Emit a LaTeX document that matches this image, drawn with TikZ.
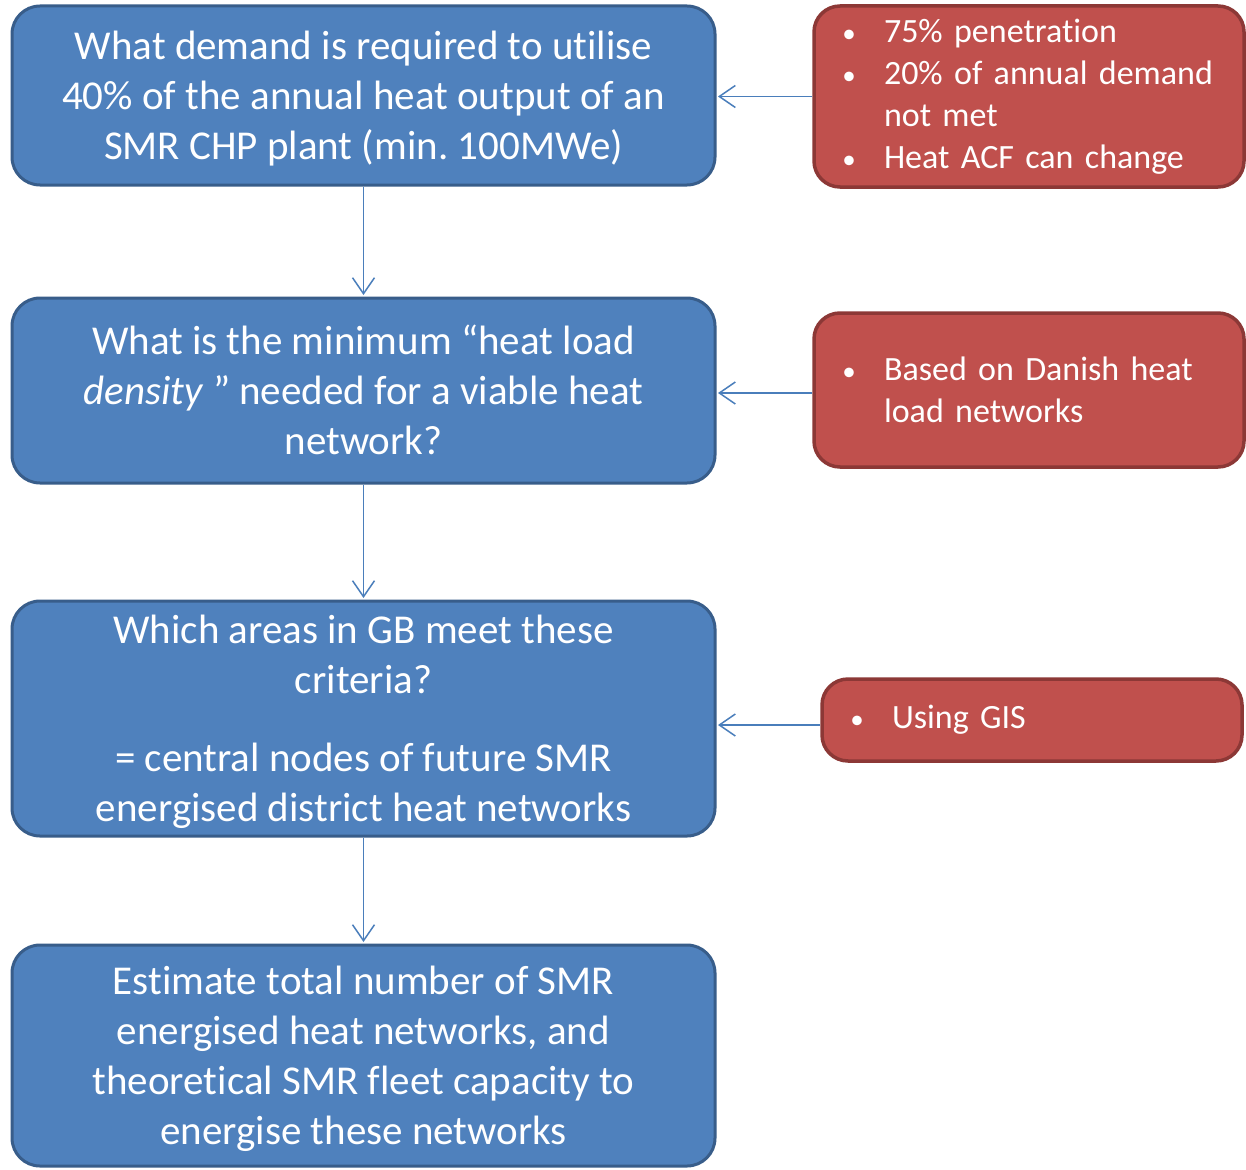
\documentclass[tikz,border=0pt]{standalone}
\usepackage{fontspec}
\setmainfont{Carlito}[Ligatures=NoCommon]
\usetikzlibrary{arrows.meta}
\frenchspacing

\definecolor{qfill}{HTML}{4F81BD}
\definecolor{qline}{HTML}{385D8A}
\definecolor{nfill}{HTML}{C0504D}
\definecolor{nline}{HTML}{8C3836}
\definecolor{linkcol}{HTML}{4A7EBB}

% bullet line and its continuation inside the red note boxes
\newcommand{\bpt}[1]{\makebox[70pt][l]{\hspace*{35pt}\makebox[0pt][c]{\fontsize{27}{27}\selectfont•}}#1}
\newcommand{\bcont}[1]{\hspace*{70pt}#1}
% fixed ascent/descent for the first and last line of a question box
\newcommand{\qs}{\rule[-10pt]{0pt}{48pt}}

\tikzset{
  question/.style={draw=qline, line width=3pt, fill=qfill, rounded corners=28pt,
    text=white, align=center, font=\fontsize{41}{50}\selectfont,
    minimum width=703pt, inner sep=0pt},
  note/.style={draw=nline, line width=3.5pt, fill=nfill, rounded corners=26pt,
    text=white, align=left, inner xsep=0pt, inner ysep=0pt,
    font=\fontsize{34}{42}\selectfont},
  feed/.style={draw=linkcol, line width=1.5pt, shorten >=1.5pt,
    -{Straight Barb[length=16pt,width=22pt,line width=1.5pt]}}
}

\begin{document}
\begin{tikzpicture}[x=1pt,y=-1pt]
\fill[white] (0,0) rectangle (1246,1169);
\useasboundingbox (0,0) rectangle (1246,1169);

% main question chain
\node[question, minimum height=179pt] (b1) at (363.5,95.5)
  {\qs What demand is required to utilise\\40\% of the annual heat output of an\\SMR CHP plant (min. 100MWe)\qs};
\node[question, minimum height=185pt] (b2) at (363.5,390.5)
  {\qs What is the minimum “heat load\\\textit{density} ” needed for a viable heat\\network?\qs};
\node[question, minimum height=235pt] (b3) at (363.5,718.5)
  {\qs Which areas in GB meet these\\criteria?\\[28pt]= central nodes of future SMR\\energised district heat networks\qs};
\node[question, minimum height=221pt] (b4) at (363.5,1055.5)
  {\qs Estimate total number of SMR\\energised heat networks, and\\theoretical SMR fleet capacity to\\energise these networks\qs};

% side notes
\node[note, text width=430pt, minimum height=181pt] (r1) at (1029,96.5)
  {\bpt{75\% penetration}\\\bpt{20\% of annual demand}\\\bcont{not met}\\\bpt{Heat ACF can change}};
\node[note, text width=430pt, minimum height=154pt] (r2) at (1029,390)
  {\bpt{Based on Danish heat}\\\bcont{load networks}};
\node[note, text width=420pt, minimum height=82pt] (r3) at (1032,720)
  {\bpt{Using GIS}};

% connectors
\draw[feed] (b1) -- (b2);
\draw[feed] (b2) -- (b3);
\draw[feed] (b3) -- (b4);
\draw[feed] (r1.west) -- (r1.west -| b1.east);
\draw[feed] ([yshift=-3pt]r2.west) -- ([yshift=-3pt]r2.west -| b2.east);
\draw[feed] ([yshift=-5pt]r3.west) -- ([yshift=-5pt]r3.west -| b3.east);
\end{tikzpicture}
\end{document}
